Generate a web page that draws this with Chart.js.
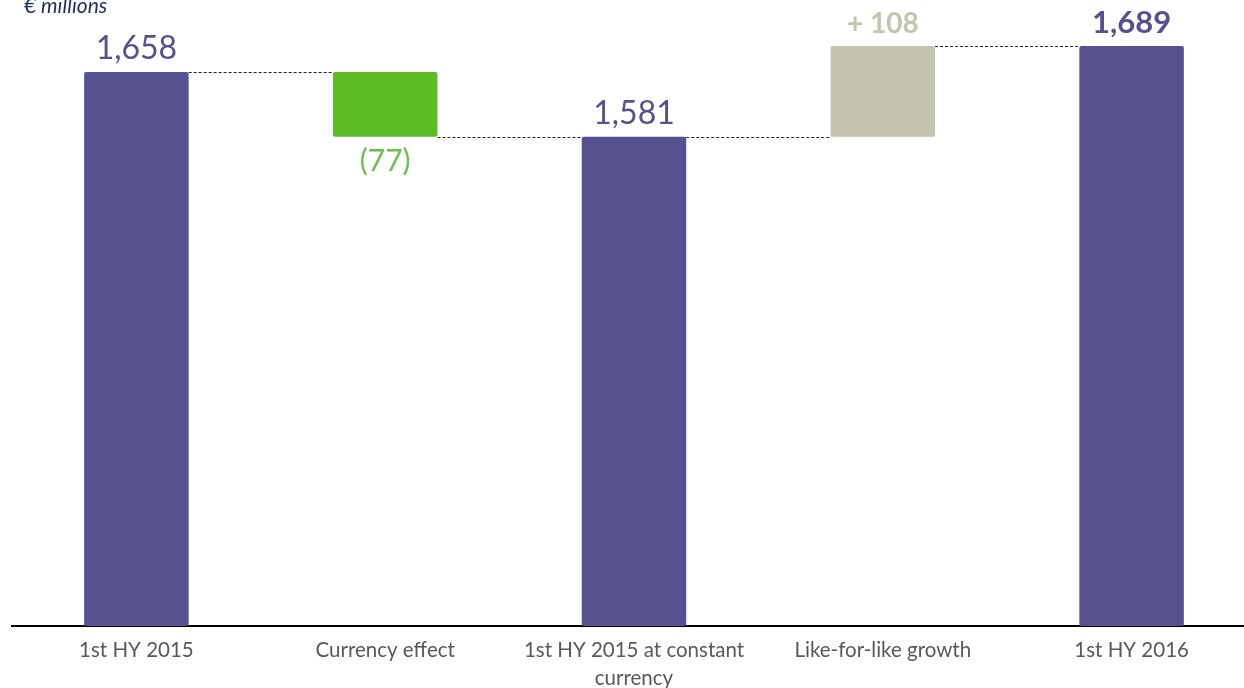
<!DOCTYPE html>
<html>
<head>
<meta charset="utf-8">
<script src="https://cdn.jsdelivr.net/npm/chart.js@4/dist/chart.umd.min.js"></script>
<style>
  html, body { margin: 0; padding: 0; background: #fff; overflow: hidden; }
  #wrap { position: absolute; left: 0; top: 0; width: 1256px; height: 688px; }
  #unit { position: absolute; left: 24px; top: -8px; font: italic 21px Lato, sans-serif; color: #1f2f5c; }
</style>
</head>
<body>
<div id="wrap"><canvas id="chart"></canvas></div>
<div id="unit">€ millions</div>
<script>
// categories and values (€ millions)
const categories = ['1st HY 2015', 'Currency effect', ['1st HY 2015 at constant', 'currency'], 'Like-for-like growth', '1st HY 2016'];
const values = [1658, -77, 1581, 108, 1689];
const kinds = ['total', 'delta', 'total', 'delta', 'total'];
const valueLabels = ['1,658', '(77)', '1,581', '+ 108', '1,689'];
const axisMin = 1000;
const axisMax = 1740;

const PURPLE = '#575091';
const GREEN = '#5ebd26';
const TAN = '#c4c3ad';

// build floating bars from the running total
let running = 0;
const floating = values.map((v, i) => {
  if (kinds[i] === 'total') {
    running = v;
    return [axisMin, v];
  }
  const start = running;
  running += v;
  return [start, running];
});
const barColors = values.map((v, i) => kinds[i] === 'total' ? PURPLE : (v < 0 ? GREEN : TAN));
const labelColors = values.map((v, i) => kinds[i] === 'total' ? PURPLE : (v < 0 ? '#6cbf4c' : '#c4c3ad'));
const labelFonts = ['normal 32px Lato', 'normal 30px Lato', 'normal 32px Lato', 'bold 28px Lato', 'bold 31px Lato'];

const waterfallExtras = {
  id: 'waterfallExtras',
  afterDatasetsDraw(chart) {
    const ctx = chart.ctx;
    const y = chart.scales.y;
    const bars = chart.getDatasetMeta(0).data;

    // dashed connectors between bars
    ctx.save();
    ctx.strokeStyle = '#222';
    ctx.lineWidth = 1;
    ctx.setLineDash([3, 2]);
    for (let i = 0; i < bars.length - 1; i++) {
      const level = floating[i][1];
      const py = Math.round(y.getPixelForValue(level)) + 0.5;
      const a = bars[i], b = bars[i + 1];
      ctx.beginPath();
      ctx.moveTo(a.x + a.width / 2, py);
      ctx.lineTo(b.x - b.width / 2, py);
      ctx.stroke();
    }
    ctx.restore();

    // value labels
    ctx.save();
    ctx.textAlign = 'center';
    bars.forEach((bar, i) => {
      ctx.font = labelFonts[i];
      ctx.fillStyle = labelColors[i];
      const top = y.getPixelForValue(Math.max(floating[i][0], floating[i][1]));
      const bottom = y.getPixelForValue(Math.min(floating[i][0], floating[i][1]));
      if (values[i] < 0) {
        ctx.textBaseline = 'top';
        ctx.fillText(valueLabels[i], bar.x, bottom + 9);
      } else {
        ctx.textBaseline = 'alphabetic';
        ctx.fillText(valueLabels[i], bar.x, top - 13);
      }
    });
    ctx.restore();
  }
};

new Chart(document.getElementById('chart'), {
  type: 'bar',
  data: {
    labels: categories,
    datasets: [{
      data: floating,
      backgroundColor: barColors,
      borderRadius: 2,
      borderSkipped: false,
      barPercentage: 0.42,
      categoryPercentage: 1
    }]
  },
  options: {
    responsive: true,
    maintainAspectRatio: false,
    animation: false,
    layout: { padding: { left: 12, right: 0, top: 3, bottom: 0 } },
    plugins: {
      legend: { display: false },
      tooltip: { enabled: false }
    },
    scales: {
      x: {
        grid: { display: false, drawTicks: false },
        border: { display: true, color: '#000', width: 2 },
        ticks: {
          color: '#595959',
          font: { family: 'Lato', size: 20.5, lineHeight: 1.38 },
          padding: 10,
          maxRotation: 0,
          autoSkip: false
        },
        afterFit(scale) { scale.height = 62; }
      },
      y: {
        display: false,
        min: axisMin,
        max: axisMax
      }
    }
  },
  plugins: [waterfallExtras]
});
</script>
</body>
</html>
